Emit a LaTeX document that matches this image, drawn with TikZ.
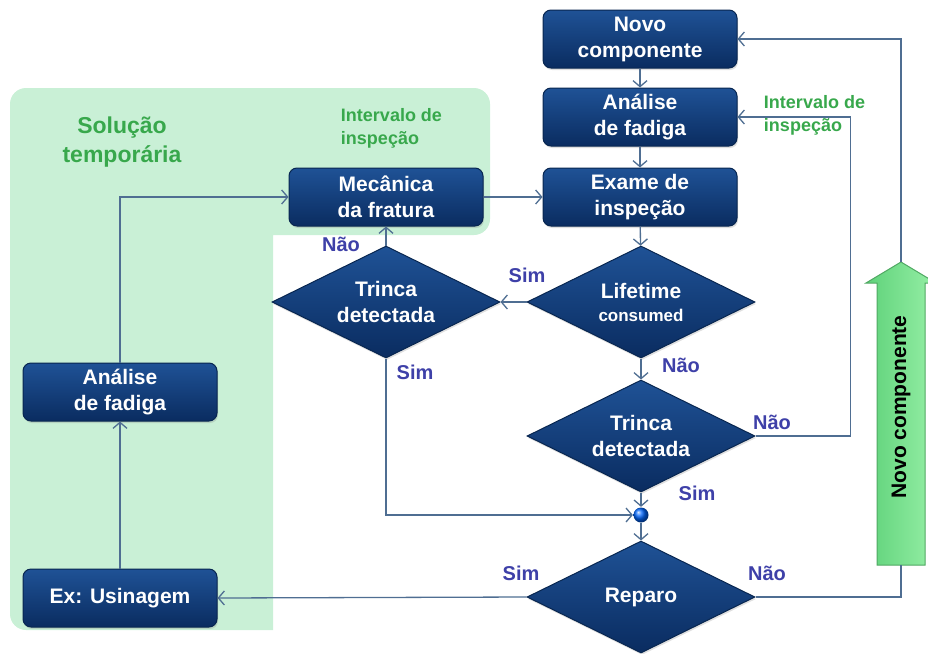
\documentclass[tikz,border=0pt]{standalone}
\usepackage{fontspec}
\setmainfont{Liberation Sans}
\usepackage{tikz}
\usetikzlibrary{arrows.meta}
\usetikzlibrary{positioning}
\usetikzlibrary{shapes.geometric, shadows}

\definecolor{navytop}{HTML}{1F5296}
\definecolor{navymid}{HTML}{0E3B79}
\definecolor{navybot}{HTML}{0A2C60}
\definecolor{navyline}{HTML}{082650}
\definecolor{linha}{HTML}{4F6E92}
\definecolor{rotuloazul}{HTML}{3E40A8}
\definecolor{verdetexto}{HTML}{38A84C}
\definecolor{verdefundo}{HTML}{C9F0D6}
\definecolor{setaverde}{HTML}{96EFA6}
\definecolor{setaescura}{HTML}{5FD27A}
\definecolor{setaborda}{HTML}{4FA862}

\tikzset{
  box/.style={rounded corners=8pt, minimum width=194pt, minimum height=58pt,
    align=center, text=white, font=\fontsize{21}{26}\selectfont\bfseries,
    top color=navytop, middle color=navymid, bottom color=navybot,
    draw=navyline, line width=1pt,
    drop shadow={opacity=0.25, shadow xshift=1pt, shadow yshift=-2pt}},
  losango/.style={diamond, aspect=2, minimum width=228pt, minimum height=112pt,
    inner sep=0pt, align=center, text=white, font=\fontsize{21}{26}\selectfont\bfseries,
    top color=navytop, middle color=navymid, bottom color=navybot,
    draw=navyline, line width=1pt,
    drop shadow={opacity=0.25, shadow xshift=1pt, shadow yshift=-2pt}},
  rotulo/.style={text=rotuloazul, font=\fontsize{20}{24}\selectfont\bfseries},
  nota/.style={text=verdetexto, align=left, font=\fontsize{18}{23}\selectfont\bfseries},
}

\begin{document}
\begin{tikzpicture}[x=1pt,y=-1pt,line width=1.3pt,>={Straight Barb[length=6pt,width=14pt]}]
    \useasboundingbox (0,0) rectangle (928,653);

    % fundo da solucao temporaria
    \fill[verdefundo] (273,235) -- (273,630) [rounded corners=16pt] -- (10,630)
      -- (10,88) -- (490,88) -- (490,235) [sharp corners] -- cycle;
    \node[text=verdetexto, align=center, font=\fontsize{23}{29}\selectfont\bfseries]
      (solucao) at (122,142) {Solução\\temporária};
    \node[nota, anchor=west] (intervaloL) at (337,128) {Intervalo de\\inspeção};
    \node[nota, anchor=west] (intervaloR) at (760,115) {Intervalo de\\inspeção};

    \node[box] (novo) at (640,39) {Novo\\componente};
    \node[box] (fadiga) at (640,117) {Análise\\de fadiga};
    \node[box] (exame) at (640,197) {Exame de\\inspeção};
    \node[box] (mecanica) at (386,197) {Mecânica\\da fratura};
    \node[losango] (lifetime) at (641,302) {Lifetime\\[-3pt]{\fontsize{17}{20}\selectfont consumed}};
    \node[losango] (trincaL) at (386,302) {Trinca\\detectada};
    \node[losango] (trincaR) at (641,436) {Trinca\\detectada};
    \node[circle, minimum size=15pt, inner sep=0pt, ball color=blue!60!cyan] (junction) at (641,515) {};
    \node[losango] (reparo) at (641,597) {Reparo};
    \node[box] (fadigaL) at (120,392) {Análise\\de fadiga};
    \node[box] (usinagem) at (120,598) {Ex: Usinagem};

    % seta verde
    \draw[setaborda, line width=1pt, left color=setaescura, right color=setaverde]
      (877,565) -- (877,283) -- (866,283) -- (901,262) -- (936,283)
      -- (925,283) -- (925,565) -- cycle;
    \coordinate (setaBase) at (901,565);
    \coordinate (setaPonta) at (901,262);
    \node[rotate=90, font=\fontsize{21}{26}\selectfont\bfseries] (seta) at (901,407) {Novo componente};

    \node[rotulo] (nao1) at (341,244) {Não};
    \node[rotulo] (sim1) at (527,275) {Sim};
    \node[rotulo] (sim2) at (415,372) {Sim};
    \node[rotulo] (nao2) at (681,365) {Não};
    \node[rotulo] (nao3) at (772,422) {Não};
    \node[rotulo] (sim3) at (697,493) {Sim};
    \node[rotulo] (sim4) at (521,573) {Sim};
    \node[rotulo] (nao4) at (767,573) {Não};

    \begin{scope}[draw=linha]
    \draw[->] (novo) -- (fadiga);
    \draw[->] (fadiga) -- (exame);
    \draw[->] (exame) -- (lifetime);
    \draw[->] (lifetime.west) -- (trincaL.east);
    \draw[->] (lifetime) -- (trincaR);
    \draw[->] (trincaR.east) -- ++(95,0) |- (fadiga.east);
    \draw[->] (trincaR) -- (junction);
    \draw[->] (trincaL.south) |- (junction.west);
    \draw[->] (trincaL) -- (mecanica);
    \draw[->] (junction) -- (reparo);
    \draw[->] (reparo.west) -- (usinagem.east);
    \draw (reparo.east) -| (setaBase);
    \draw[->] (setaPonta) |- (novo.east);
    \draw[->] (usinagem) -- (fadigaL);
    \draw[->] (fadigaL.north) |- (mecanica.west);
    \draw[->] (mecanica) -- (exame);
    \end{scope}
  \end{tikzpicture}
\end{document}
